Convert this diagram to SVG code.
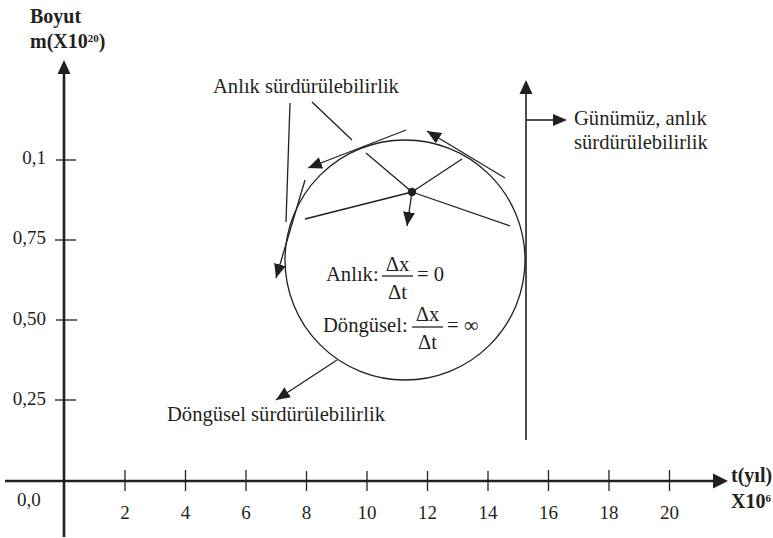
<svg xmlns="http://www.w3.org/2000/svg" width="773" height="538" viewBox="0 0 773 538" font-family="'Liberation Serif','Times New Roman',serif">
<style>
text{font-family:"Liberation Serif","Times New Roman",serif;fill:#231f20;font-size:20.6px}
.b{font-weight:bold;font-size:20px}
.n{font-size:19px}
.ax{stroke:#231f20;stroke-width:2.6;fill:none}
.ln{stroke:#231f20;stroke-width:1.3;fill:none}
.ah{fill:#231f20;stroke:none}
</style>
<defs>
<marker id="arr" markerUnits="userSpaceOnUse" markerWidth="15" markerHeight="12" refX="14" refY="6" orient="auto">
<path d="M0,0 L14,6 L0,12 z" fill="#231f20"/>
</marker>
</defs>

<g id="axes">
<line class="ax" x1="64" y1="537" x2="64" y2="72"/>
<polygon class="ah" points="64,60 57.5,74 70.5,74"/>
<line class="ax" x1="5" y1="481" x2="714" y2="481"/>
<polygon class="ah" points="728,481 713,473.5 713,488.5"/>
<g class="ln">
<line x1="56" y1="160" x2="76" y2="160"/>
<line x1="55" y1="240" x2="76" y2="240"/>
<line x1="56" y1="320" x2="77" y2="320"/>
<line x1="55" y1="400" x2="76" y2="400"/>
<line x1="125" y1="470" x2="125" y2="491"/>
<line x1="185.5" y1="470" x2="185.5" y2="491"/>
<line x1="246" y1="470" x2="246" y2="491"/>
<line x1="306.5" y1="471" x2="306.5" y2="491"/>
<line x1="367" y1="471" x2="367" y2="491"/>
<line x1="427.5" y1="471" x2="427.5" y2="491"/>
<line x1="488" y1="471" x2="488" y2="491"/>
<line x1="548.5" y1="470" x2="548.5" y2="491"/>
<line x1="609" y1="470" x2="609" y2="491"/>
<line x1="669.5" y1="470" x2="669.5" y2="491"/>
</g>
<g text-anchor="end">
<text class="n" x="46" y="164">0,1</text>
<text class="n" x="46" y="244">0,75</text>
<text class="n" x="46" y="325">0,50</text>
<text class="n" x="46" y="405">0,25</text>
</g>
<text class="n" x="17" y="506">0,0</text>
<g text-anchor="middle">
<text class="n" x="125" y="519">2</text>
<text class="n" x="185.5" y="519">4</text>
<text class="n" x="246" y="519">6</text>
<text class="n" x="306.5" y="519">8</text>
<text class="n" x="367" y="519">10</text>
<text class="n" x="427.5" y="519">12</text>
<text class="n" x="488" y="519">14</text>
<text class="n" x="548.5" y="519">16</text>
<text class="n" x="609" y="519">18</text>
<text class="n" x="669.5" y="519">20</text>
</g>
<text class="b" x="30" y="23">Boyut</text>
<text class="b" x="30" y="48">m(X10<tspan font-size="11" dy="-6">20</tspan><tspan dy="6">)</tspan></text>
<text class="b" x="731" y="482">t(yıl)</text>
<text class="b" x="731" y="508">X10<tspan font-size="11" dy="-6">6</tspan></text>
</g>

<g id="cycle">
<circle class="ln" cx="405" cy="260" r="120"/>
</g>

<g id="center">
<circle cx="412" cy="192" r="4.2" fill="#231f20"/>
</g>

<g id="connectors">
<line class="ln" x1="406" y1="130" x2="308" y2="168" marker-end="url(#arr)"/>
<line class="ln" x1="505" y1="178" x2="427" y2="131" marker-end="url(#arr)"/>
<line class="ln" x1="305" y1="180" x2="276" y2="278" marker-end="url(#arr)"/>
<line class="ln" x1="366" y1="153" x2="412" y2="192"/>
<line class="ln" x1="412" y1="192" x2="462" y2="159"/>
<line class="ln" x1="305" y1="219" x2="412" y2="192"/>
<line class="ln" x1="412" y1="192" x2="510" y2="226"/>
<line class="ln" x1="412" y1="192" x2="407" y2="226" marker-end="url(#arr)"/>
<line class="ln" x1="290" y1="103" x2="286" y2="222"/>
<line class="ln" x1="312" y1="102" x2="352" y2="140"/>
<line class="ln" x1="337" y1="360" x2="276" y2="400" marker-end="url(#arr)"/>
<line class="ln" style="stroke-width:1.6" x1="526" y1="440" x2="526" y2="92"/>
<polygon class="ah" points="526,80 519.5,94 532.5,94"/>
<line class="ln" style="stroke-width:1.6" x1="526" y1="120" x2="554" y2="120"/>
<polygon class="ah" points="567,120 553,114 553,126"/>
</g>

<g id="labels">
<text x="213" y="93">Anlık sürdürülebilirlik</text>
<text x="574" y="125">Günümüz, anlık</text>
<text x="574" y="149">sürdürülebilirlik</text>
<text x="167" y="421">Döngüsel sürdürülebilirlik</text>
</g>

<g id="formula">
<text x="326" y="281">Anlık:</text>
<text x="397.5" y="271" text-anchor="middle">Δx</text>
<line class="ln" x1="382" y1="276" x2="413" y2="276"/>
<text x="397.5" y="299" text-anchor="middle">Δt</text>
<text x="417" y="281">= 0</text>
<text x="323" y="332">Döngüsel:</text>
<text x="427.5" y="321" text-anchor="middle">Δx</text>
<line class="ln" x1="412" y1="327" x2="443" y2="327"/>
<text x="427.5" y="349" text-anchor="middle">Δt</text>
<text x="447" y="332">= ∞</text>
</g>
</svg>
